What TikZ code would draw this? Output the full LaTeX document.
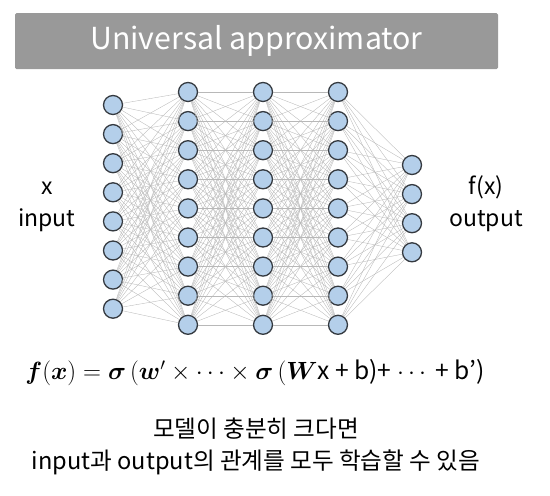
\documentclass[tikz,border=0pt]{standalone}
\usepackage[no-math]{fontspec}
\usepackage{amsmath}
\setmainfont{Noto Sans CJK KR}
\definecolor{titlegray}{HTML}{999999}
\definecolor{nodeblue}{HTML}{B4CFEA}
\definecolor{nodeedge}{HTML}{353A40}
\definecolor{linkgray}{HTML}{B8B8B8}

\begin{document}
\begin{tikzpicture}[x=1pt, y=-1pt,
    neuron/.style={circle, draw=nodeedge, fill=nodeblue, line width=1.3pt, minimum size=19pt, inner sep=0pt},
    link/.style={draw=linkgray, line width=0.35pt}]

   \useasboundingbox (0,0) rectangle (550,496);

   \node[fill=titlegray, rounded corners=1.5pt, minimum width=483pt, minimum height=56pt,
         text=white, font=\fontsize{30.3}{32}\selectfont] (title) at (256.5,41) {Universal approximator};

   % layers: number / x / count / top y
   \foreach \l/\x/\n/\y in {1/113/8/105, 2/188/9/92, 3/263/9/92, 4/338/9/92, 5/412/4/165}
     \foreach \i in {1,...,\n}
       \node [neuron] (n\l-\i) at (\x,{\y+(\i-1)*29.1}) {};

   % full connections between neighbouring layers
   \foreach \a/\na/\b/\nb in {1/8/2/9, 2/9/3/9, 3/9/4/9, 4/9/5/4}
     \foreach \i in {1,...,\na}
       \foreach \j in {1,...,\nb}
         \draw[link] (n\a-\i) -- (n\b-\j);

   \node[align=center, font=\fontsize{23}{32}\selectfont] (inlbl) at (47,207) {x\\input};
   \node[align=center, font=\fontsize{23}{32}\selectfont] (outlbl) at (486,204) {f(x)\\output};

   \node[font=\fontsize{24.6}{28}\selectfont] (formula) at (255,373)
     {$\boldsymbol{f}(\boldsymbol{x})=\boldsymbol{\sigma}\,(\boldsymbol{w}'\times\cdots\times\boldsymbol{\sigma}\,(\boldsymbol{W}$x + b)+ $\cdots$ + b’)};

   \node[align=center, font=\fontsize{23.6}{32}\selectfont] (note) at (256,446)
     {모델이 충분히 크다면\\input과 output의 관계를 모두 학습할 수 있음};
\end{tikzpicture}
\end{document}
